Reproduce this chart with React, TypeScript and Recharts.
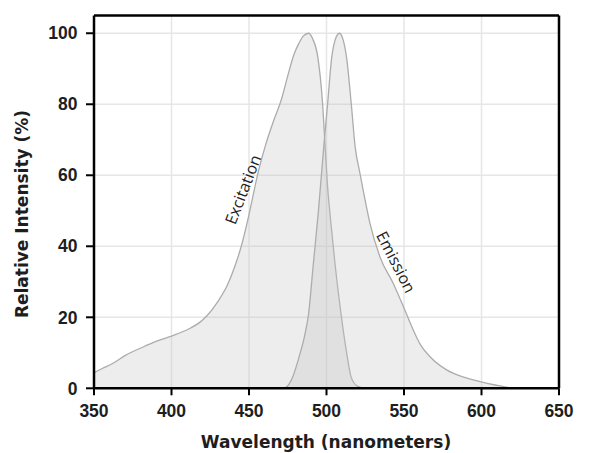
import React from 'react';
import {
  ComposedChart,
  Area,
  XAxis,
  YAxis,
  CartesianGrid,
  ReferenceLine,
  ReferenceDot,
  Customized,
} from 'recharts';

const xTicks = [350, 400, 450, 500, 550, 600, 650];
const yTicks = [0, 20, 40, 60, 80, 100];

const excitationNm = [
  350, 355, 362, 370, 382, 390, 400, 412, 418, 423, 430, 436, 441, 445, 449, 452, 456, 461,
  466, 471, 475, 479, 482, 485, 488.5, 491, 494.5, 497.5, 499, 500.5, 502.5, 505.5, 509.5,
  513, 516, 520, 525,
];
const excitationValue = [
  4.4, 5.5, 7.0, 9.2, 11.7, 13.2, 14.7, 16.9, 18.5, 20.5, 24.5, 29, 34.5, 40, 47, 53, 61, 69,
  75.5, 81.5, 88, 94, 97, 99.2, 100, 98.5, 93, 80, 69, 58, 48, 35, 20.5, 10, 3, 0.6, 0,
];

const emissionNm = [
  472, 474.5, 478, 483, 486, 488.3, 491.5, 494.8, 498.6, 500.7, 503.3, 505.5, 508.3, 510.5,
  513, 516, 518.5, 521.6, 524, 528, 534.5, 543, 550.6, 556, 561, 566.8, 577.5, 588, 599, 608,
  614, 620,
];
const emissionValue = [
  0, 0.5, 3, 9.9, 15, 20.5, 35, 50, 70, 80, 93, 98, 100, 98.5, 93, 80, 68, 60.5, 55, 46.5,
  37, 29.6, 22, 16.4, 12, 8.9, 5.2, 3.2, 1.9, 1, 0.5, 0,
];

type Row = { nm: number; excitation: number | null; emission: number | null };

const rows: Row[] = (() => {
  const map = new Map<number, Row>();
  excitationNm.forEach((nm, i) => {
    const r = map.get(nm) || { nm, excitation: null, emission: null };
    r.excitation = excitationValue[i];
    map.set(nm, r);
  });
  emissionNm.forEach((nm, i) => {
    const r = map.get(nm) || { nm, excitation: null, emission: null };
    r.emission = emissionValue[i];
    map.set(nm, r);
  });
  return Array.from(map.values()).sort((a, b) => a.nm - b.nm);
})();

const FONT = '"DejaVu Sans", sans-serif';
const TICK_FONT = '"Liberation Sans", Arial, sans-serif';
const tickStyle = { fontFamily: TICK_FONT, fontWeight: 700, fontSize: 17.5, fill: '#1e1e1e' };

const CurveLabel = (text: string, angle: number) => (props: any) => {
  const { cx, cy } = props;
  return (
    <text
      x={cx}
      y={cy}
      transform={`rotate(${angle}, ${cx}, ${cy})`}
      textAnchor="middle"
      dominantBaseline="central"
      fontFamily='"Open Sans", sans-serif'
      fontSize={16}
      fill="#222"
    >
      {text}
    </text>
  );
};

const Titles = () => (
  <g>
    <text
      x={318}
      y={440}
      textAnchor="middle"
      fontFamily={FONT}
      fontWeight={700}
      fontSize={17}
      fill="#1e1e1e"
    >
      Wavelength (nanometers)
    </text>
    <text
      x={20}
      y={206}
      transform="rotate(-90, 20, 206)"
      textAnchor="middle"
      fontFamily={FONT}
      fontWeight={700}
      fontSize={17}
      fill="#1e1e1e"
    >
      Relative Intensity (%)
    </text>
  </g>
);

export default function App() {
  return (
    <ComposedChart
      width={598}
      height={445}
      data={rows}
      margin={{ top: 7.5, right: 7, bottom: 14.7, left: 26 }}
    >
      <CartesianGrid stroke="#e6e6e6" strokeWidth={1.5} yAxisId="left" />
      <XAxis
        dataKey="nm"
        type="number"
        domain={[350, 650]}
        ticks={xTicks}
        interval={0}
        height={50}
        tick={tickStyle}
        tickSize={7}
        tickMargin={9}
        axisLine={{ stroke: '#000', strokeWidth: 2.5 }}
        tickLine={{ stroke: '#000', strokeWidth: 2 }}
      />
      <YAxis
        yAxisId="left"
        type="number"
        domain={[0, 105]}
        ticks={yTicks}
        interval={0}
        width={60}
        tick={tickStyle}
        tickSize={8}
        tickMargin={8.5}
        axisLine={{ stroke: '#000', strokeWidth: 2.5 }}
        tickLine={{ stroke: '#000', strokeWidth: 2 }}
      />
      <YAxis
        yAxisId="right"
        orientation="right"
        type="number"
        domain={[0, 105]}
        ticks={yTicks}
        interval={0}
        width={40}
        tick={{ ...tickStyle, textAnchor: 'start' }}
        tickSize={7}
        tickMargin={7}
        axisLine={{ stroke: '#000', strokeWidth: 2.5 }}
        tickLine={{ stroke: '#000', strokeWidth: 2 }}
      />
      <Area
        yAxisId="left"
        type="monotone"
        dataKey="excitation"
        connectNulls
        stroke="#acacac"
        strokeWidth={1.3}
        fill="#c4c4c4"
        fillOpacity={0.3}
        dot={false}
        activeDot={false}
        isAnimationActive={false}
      />
      <Area
        yAxisId="left"
        type="monotone"
        dataKey="emission"
        connectNulls
        stroke="#acacac"
        strokeWidth={1.3}
        fill="#c4c4c4"
        fillOpacity={0.3}
        dot={false}
        activeDot={false}
        isAnimationActive={false}
      />
      <ReferenceLine yAxisId="left" y={105} stroke="#000" strokeWidth={2.5} />
      <ReferenceDot
        yAxisId="left"
        x={446}
        y={56}
        r={0}
        shape={CurveLabel('Excitation', -69)}
      />
      <ReferenceDot
        yAxisId="left"
        x={545}
        y={35.6}
        r={0}
        shape={CurveLabel('Emission', 63)}
      />
      <Customized component={Titles} />
    </ComposedChart>
  );
}
